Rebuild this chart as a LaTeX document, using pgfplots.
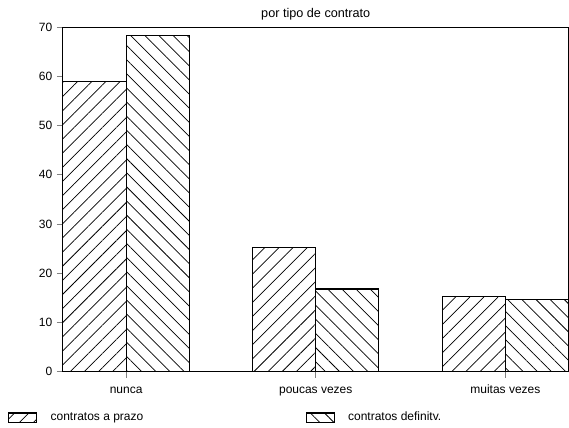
\documentclass[border=0pt]{standalone}
\usepackage{fontspec}
\setmainfont{Liberation Sans}
\usepackage{pgfplots}
\pgfplotsset{compat=1.18}
\usetikzlibrary{patterns.meta}

\begin{document}
\begin{tikzpicture}[font=\fontsize{9}{11}\selectfont]
\begin{axis}[
    /pgf/number format/assume math mode=true,
    scale only axis,
    width=379.5pt, height=258.75pt,
    ybar=0pt,
    bar width=0.333,
    xmin=-0.333, xmax=2.333,
    ymin=0, ymax=70,
    ytick={0,10,...,70},
    xtick=data,
    xticklabels={nunca, poucas vezes, muitas vezes},
    xticklabel style={text height=1.6ex, text depth=0.3ex},
    tick pos=left,
    tick align=outside,
    major tick length=4.5pt,
    tick style={line width=0.6pt},
    axis line style={line width=0.7pt},
    title={por tipo de contrato},
    title style={font=\fontsize{9.5}{11}\selectfont, at={(0.5,1)}, anchor=base, yshift=1pt},
    legend columns=2,
    legend style={draw=none, at={(-0.1087,-0.133)}, anchor=west, inner sep=0pt,
        nodes={inner sep=0pt},
        /tikz/every odd column/.append style={column sep=10pt},
        /tikz/every even column/.append style={column sep=122pt}},
    legend image code/.code={\draw[#1] (0pt,-3.4pt) rectangle (21pt,3.4pt);},
]
\addplot[draw=black, line width=0.8pt, bar shift=-0.1667,
    pattern={Lines[angle=45,distance=7.5pt,line width=0.55pt]}]
    coordinates {(0,59) (1,25.2) (2,15.2)};
\addplot[draw=black, line width=0.8pt, bar shift=0.1667,
    pattern={Lines[angle=-45,distance=7.5pt,line width=0.55pt]}]
    coordinates {(0,68.2) (1,16.8) (2,14.6)};
\legend{contratos a prazo, contratos definitv.}
\end{axis}
\useasboundingbox (-47.25pt,-42pt) rectangle (379.5pt,279pt);
\end{tikzpicture}
\end{document}
